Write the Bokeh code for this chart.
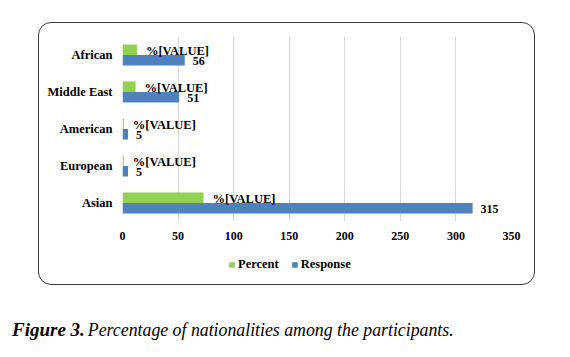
from bokeh.plotting import figure
from bokeh.layouts import column
from bokeh.models import (ColumnDataSource, FactorRange, Range1d, FixedTicker,
                          LabelSet, Legend, LegendItem, Div)
from bokeh.transform import dodge
from bokeh.embed import file_html
from bokeh.resources import INLINE

categories = ["Asian", "European", "American", "Middle East", "African"]
response = [315, 5, 5, 51, 56]
percent = [72.9, 1.2, 1.2, 11.8, 13.0]
percent_labels = ["%[VALUE]"] * 5
response_labels = [str(v) for v in response]
x_ticks = [0, 50, 100, 150, 200, 250, 300, 350]
series_names = ["Percent", "Response"]

GREEN = "#92D050"
BLUE = "#4F81BD"
FONT = "Liberation Serif"

src = ColumnDataSource(dict(cat=categories, response=response, percent=percent,
                            plab=percent_labels, rlab=response_labels))

W = 495
H_CHART = 226
H_LEG = 35

p = figure(width=W, height=H_CHART, output_backend="svg", toolbar_location=None,
           y_range=FactorRange(factors=categories, range_padding=0),
           x_range=Range1d(0, 350),
           min_border_left=83, min_border_right=23, min_border_top=13, min_border_bottom=28)
p.outline_line_color = None
p.background_fill_color = "white"
p.border_fill_alpha = 0

p.hbar(y=dodge("cat", 0.142, range=p.y_range), right="percent", height=0.284,
       source=src, fill_color=GREEN, line_color=None)
p.hbar(y=dodge("cat", -0.142, range=p.y_range), right="response", height=0.284,
       source=src, fill_color=BLUE, line_color=None)

p.add_layout(LabelSet(x="percent", y=dodge("cat", 0.142, range=p.y_range), text="plab",
                      source=src, x_offset=9, y_offset=-1.5, text_baseline="middle",
                      text_font=FONT, text_font_style="bold", text_font_size="12.5px",
                      text_color="black"))
p.add_layout(LabelSet(x="response", y=dodge("cat", -0.142, range=p.y_range), text="rlab",
                      source=src, x_offset=8, y_offset=-1, text_baseline="middle",
                      text_font=FONT, text_font_style="bold", text_font_size="12px",
                      text_color="black"))

for ax in (p.xaxis, p.yaxis):
    ax.axis_line_color = None
    ax.major_tick_line_color = None
    ax.minor_tick_line_color = None
    ax.major_tick_out = 0
    ax.major_tick_in = 0
    ax.minor_tick_out = 0
    ax.major_label_text_font = FONT
    ax.major_label_text_font_style = "bold"
    ax.major_label_text_color = "black"

p.xaxis.ticker = FixedTicker(ticks=x_ticks)
p.xaxis.major_label_standoff = 10
p.xaxis.major_label_text_font_size = "12px"
p.yaxis.major_label_standoff = 10
p.yaxis.major_label_text_font_size = "12.5px"

p.xgrid.grid_line_color = "#D9D9D9"
p.xgrid.grid_line_width = 1
p.ygrid.grid_line_color = None

# legend strip: hidden copies of the two series provide the swatches
pl = figure(width=W, height=H_LEG, output_backend="svg", toolbar_location=None,
            min_border=0, min_border_left=0, min_border_right=0,
            min_border_top=0, min_border_bottom=0,
            x_range=Range1d(0, 350), y_range=FactorRange(factors=categories))
pl.axis.visible = False
pl.grid.grid_line_color = None
pl.outline_line_color = None
pl.background_fill_alpha = 0
pl.border_fill_alpha = 0
sw_g = pl.hbar(y="cat", right="percent", height=0.5, source=src,
               fill_color=GREEN, line_color=None, visible=False)
sw_b = pl.hbar(y="cat", right="response", height=0.5, source=src,
               fill_color=BLUE, line_color=None, visible=False)
legend = Legend(items=[LegendItem(label=series_names[0], renderers=[sw_g]),
                       LegendItem(label=series_names[1], renderers=[sw_b])],
                orientation="horizontal", location=(106, 12),
                glyph_width=7, glyph_height=7, label_standoff=3, spacing=12,
                padding=0, margin=0, border_line_color=None,
                background_fill_alpha=0, inactive_fill_alpha=0,
                label_text_font=FONT, label_text_font_style="bold",
                label_text_font_size="12.5px", label_text_color="black")
pl.add_layout(legend, "center")

box = column(p, pl, spacing=0, margin=(22, 0, 0, 38),
             styles={"border": "1.5px solid #3a3a3a", "border-radius": "13px"})

caption = Div(text=("<span style=\"font-family:'Liberation Serif',serif;line-height:20px;color:black\">"
                    "<b><i style=\"font-size:19px\">Figure 3.</i></b> "
                    "<i style=\"font-size:17.8px\">Percentage of nationalities among the participants.</i></span>"),
              width=530, height=22, margin=(35, 0, 0, 12))

layout = column(box, caption, spacing=0)
open("out.html", "w").write(file_html(layout, INLINE))
